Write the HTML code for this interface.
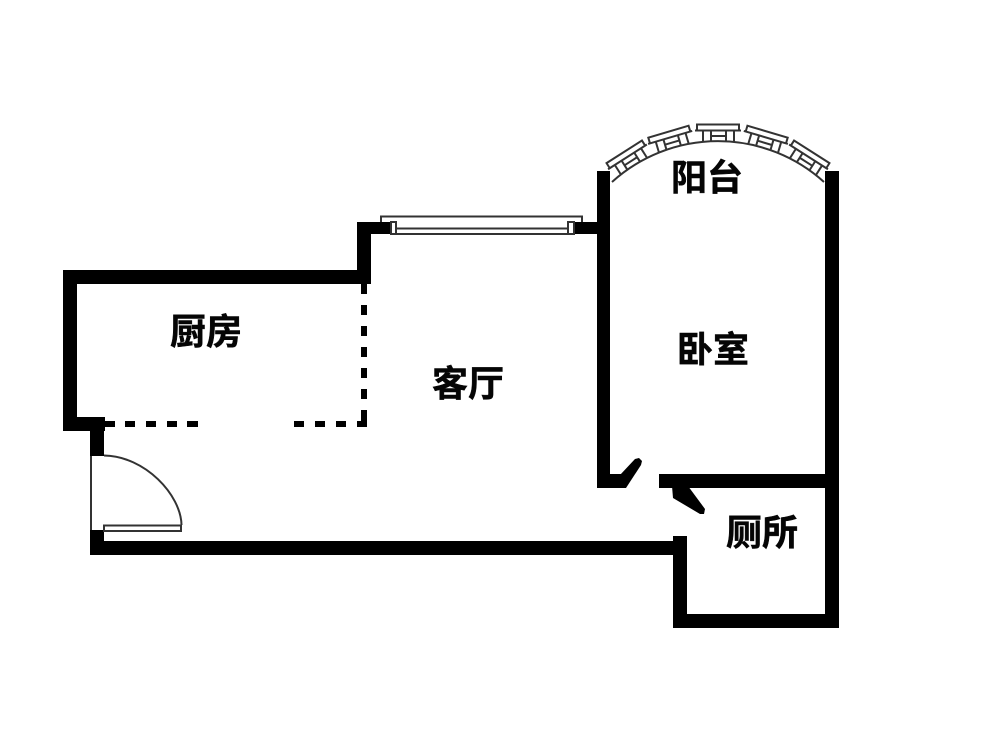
<!DOCTYPE html>
<html>
<head>
<meta charset="utf-8">
<style>
html,body{margin:0;padding:0;background:#fff}
svg{display:block}
text{font-family:"Liberation Sans","Noto Sans CJK SC",sans-serif;font-weight:700;font-size:36px;fill:#050505;stroke:#050505;stroke-width:.5px}
</style>
</head>
<body>
<svg width="1000" height="750" viewBox="0 0 1000 750" xmlns="http://www.w3.org/2000/svg">
<rect width="1000" height="750" fill="#fff"/>
<defs>
<g id="seg" fill="none" stroke="#333" stroke-width="2">
<path d="M697 130V124.500H739V130"/>
<path d="M695 130.500H741"/>
<path d="M703 131V142M711 131V142M726 131V142M734 131V142M711 136H726"/>
</g>
</defs>
<!-- balcony -->
<g>
<use href="#seg"/>
<use href="#seg" transform="rotate(-16.500 718 299)"/>
<use href="#seg" transform="rotate(16.500 718 299)"/>
<use href="#seg" transform="rotate(-32.500 718 299)"/>
<use href="#seg" transform="rotate(32.500 718 299)"/>
<path d="M612 182A158 158 0 0 1 824 182" fill="none" stroke="#333" stroke-width="2"/>
</g>
<!-- solid walls -->
<g fill="#000">
<rect x="63" y="270" width="308" height="14"/>
<rect x="63" y="270" width="14" height="161"/>
<rect x="63" y="417" width="42" height="14"/>
<rect x="90" y="417" width="14" height="39"/>
<rect x="357" y="222" width="14" height="62"/>
<rect x="357" y="222" width="34" height="12"/>
<rect x="574" y="222" width="36" height="12"/>
<rect x="597" y="171" width="13" height="317"/>
<rect x="825" y="171" width="14" height="457"/>
<rect x="597" y="474" width="29" height="14"/>
<polygon points="620,475 635,459 639,458 642,461 641,465 626,488 620,488"/>
<rect x="659" y="474" width="180" height="14"/>
<polygon points="672,486 688,486 705,509 704,514 700,514 673,498"/>
<rect x="90" y="530" width="14" height="24"/>
<rect x="90" y="541" width="597" height="14"/>
<rect x="673" y="536" width="14" height="92"/>
<rect x="673" y="614" width="166" height="14"/>
<!-- dashes horizontal -->
<rect x="105" y="421" width="10" height="6"/>
<rect x="125" y="421" width="10" height="6"/>
<rect x="146" y="421" width="10" height="6"/>
<rect x="167" y="421" width="10" height="6"/>
<rect x="187" y="421" width="11" height="6"/>
<rect x="294" y="421" width="10" height="6"/>
<rect x="315" y="421" width="10" height="6"/>
<rect x="336" y="421" width="10" height="6"/>
<rect x="357" y="421" width="10" height="6"/>
<!-- dashes vertical -->
<rect x="361" y="284" width="6" height="10"/>
<rect x="361" y="305" width="6" height="10"/>
<rect x="361" y="326" width="6" height="10"/>
<rect x="361" y="347" width="6" height="10"/>
<rect x="361" y="368" width="6" height="10"/>
<rect x="361" y="389" width="6" height="10"/>
<rect x="361" y="410" width="6" height="11"/>
</g>
<!-- top window -->
<g fill="#fff" stroke="#333" stroke-width="2">
<path d="M381 222V216.500H582V222" fill="none"/>
<rect x="391" y="222" width="5" height="12"/>
<rect x="568" y="222" width="6" height="12"/>
<path d="M396 228.500H568M396 234H568" fill="none"/>
</g>
<!-- entry door -->
<g fill="none" stroke="#333" stroke-width="2">
<path d="M91 456V530"/>
<path d="M104 455.500C145 456 181 495 181.500 525"/>
<path d="M104 525.500H181V531H104Z" fill="#fff"/>
</g>
<!-- labels -->
<text x="671" y="190">阳台</text>
<text x="170" y="344">厨房</text>
<text x="677" y="362">卧室</text>
<text x="432" y="396">客厅</text>
<text x="726" y="545">厕所</text>
</svg>
</body>
</html>
